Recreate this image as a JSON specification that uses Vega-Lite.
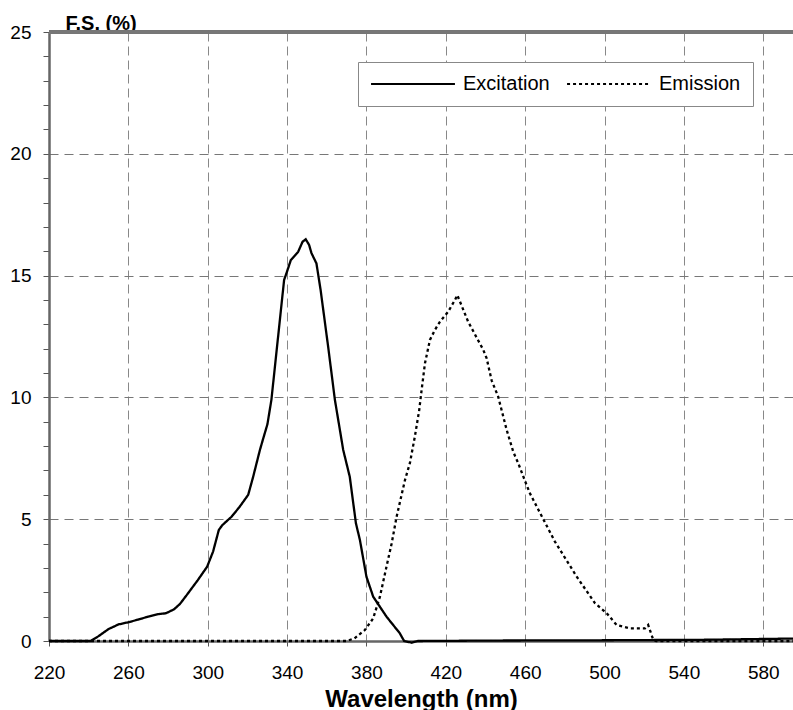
{
  "$schema": "https://vega.github.io/schema/vega-lite/v6.json",
  "autosize": {"type": "none"},
  "padding": {"left": 49, "top": 32, "right": 0, "bottom": 69},
  "width": 744,
  "height": 609,
  "background": "white",
  "config": {
    "view": {"stroke": null},
    "font": "Liberation Sans",
    "axis": {
      "labelFont": "Liberation Sans",
      "labelFontSize": 19,
      "labelColor": "black",
      "domainColor": "#666",
      "domainWidth": 2.5,
      "tickColor": "#555",
      "tickSize": 6,
      "gridColor": "#888",
      "gridWidth": 1
    },
    "legend": {
      "orient": "none",
      "legendX": 309,
      "legendY": 30,
      "direction": "horizontal",
      "padding": 12,
      "strokeColor": "#888",
      "fillColor": "white",
      "symbolType": "M-8,0H8",
      "symbolSize": 110,
      "symbolOffset": 33,
      "symbolStrokeWidth": 2,
      "symbolStrokeColor": "black",
      "labelFont": "Liberation Sans",
      "labelFontSize": 20,
      "labelColor": "black",
      "labelOffset": 40,
      "columnPadding": 13
    }
  },
  "data": {"values": [
    {"series": "Excitation", "wl": 220, "fs": 0},
    {"series": "Excitation", "wl": 241, "fs": 0},
    {"series": "Excitation", "wl": 245, "fs": 0.2},
    {"series": "Excitation", "wl": 250, "fs": 0.49},
    {"series": "Excitation", "wl": 255, "fs": 0.68},
    {"series": "Excitation", "wl": 260, "fs": 0.77},
    {"series": "Excitation", "wl": 265, "fs": 0.88},
    {"series": "Excitation", "wl": 270, "fs": 1.0},
    {"series": "Excitation", "wl": 275, "fs": 1.1},
    {"series": "Excitation", "wl": 279, "fs": 1.14},
    {"series": "Excitation", "wl": 283, "fs": 1.3},
    {"series": "Excitation", "wl": 286, "fs": 1.52},
    {"series": "Excitation", "wl": 290, "fs": 1.95},
    {"series": "Excitation", "wl": 295, "fs": 2.5},
    {"series": "Excitation", "wl": 299.7, "fs": 3.05},
    {"series": "Excitation", "wl": 302.7, "fs": 3.67},
    {"series": "Excitation", "wl": 305.6, "fs": 4.56},
    {"series": "Excitation", "wl": 307.4, "fs": 4.76},
    {"series": "Excitation", "wl": 312, "fs": 5.1},
    {"series": "Excitation", "wl": 316, "fs": 5.5},
    {"series": "Excitation", "wl": 320.4, "fs": 6.0},
    {"series": "Excitation", "wl": 322.9, "fs": 6.74},
    {"series": "Excitation", "wl": 326.3, "fs": 7.84},
    {"series": "Excitation", "wl": 328, "fs": 8.32},
    {"series": "Excitation", "wl": 330.1, "fs": 8.9},
    {"series": "Excitation", "wl": 332.1, "fs": 9.9},
    {"series": "Excitation", "wl": 338.5, "fs": 14.82},
    {"series": "Excitation", "wl": 339.7, "fs": 15.1},
    {"series": "Excitation", "wl": 341.9, "fs": 15.64},
    {"series": "Excitation", "wl": 345.6, "fs": 15.98},
    {"series": "Excitation", "wl": 347.8, "fs": 16.39},
    {"series": "Excitation", "wl": 349.4, "fs": 16.49},
    {"series": "Excitation", "wl": 351.1, "fs": 16.26},
    {"series": "Excitation", "wl": 352.3, "fs": 15.92},
    {"series": "Excitation", "wl": 354.8, "fs": 15.5},
    {"series": "Excitation", "wl": 356.9, "fs": 14.41},
    {"series": "Excitation", "wl": 360.7, "fs": 12.08},
    {"series": "Excitation", "wl": 364.1, "fs": 9.9},
    {"series": "Excitation", "wl": 368.3, "fs": 7.84},
    {"series": "Excitation", "wl": 371.6, "fs": 6.74},
    {"series": "Excitation", "wl": 374.7, "fs": 4.83},
    {"series": "Excitation", "wl": 376.7, "fs": 4.15},
    {"series": "Excitation", "wl": 380, "fs": 2.64},
    {"series": "Excitation", "wl": 383.4, "fs": 1.82},
    {"series": "Excitation", "wl": 390.1, "fs": 1.0},
    {"series": "Excitation", "wl": 396.8, "fs": 0.32},
    {"series": "Excitation", "wl": 399, "fs": 0.0},
    {"series": "Excitation", "wl": 402.8, "fs": -0.07},
    {"series": "Excitation", "wl": 406, "fs": 0.0},
    {"series": "Excitation", "wl": 450, "fs": 0.02},
    {"series": "Excitation", "wl": 500, "fs": 0.03},
    {"series": "Excitation", "wl": 550, "fs": 0.05},
    {"series": "Excitation", "wl": 595, "fs": 0.1},
    {"series": "Emission", "wl": 220, "fs": 0},
    {"series": "Emission", "wl": 370, "fs": 0},
    {"series": "Emission", "wl": 374, "fs": 0.11},
    {"series": "Emission", "wl": 379.2, "fs": 0.45},
    {"series": "Emission", "wl": 383.4, "fs": 0.93},
    {"series": "Emission", "wl": 386.8, "fs": 1.82},
    {"series": "Emission", "wl": 390.1, "fs": 3.05},
    {"series": "Emission", "wl": 392.7, "fs": 4.0},
    {"series": "Emission", "wl": 395.2, "fs": 5.1},
    {"series": "Emission", "wl": 399.4, "fs": 6.6},
    {"series": "Emission", "wl": 401.9, "fs": 7.3},
    {"series": "Emission", "wl": 404.4, "fs": 8.39},
    {"series": "Emission", "wl": 406.6, "fs": 9.48},
    {"series": "Emission", "wl": 407.8, "fs": 10.3},
    {"series": "Emission", "wl": 409.5, "fs": 11.4},
    {"series": "Emission", "wl": 412, "fs": 12.36},
    {"series": "Emission", "wl": 414.5, "fs": 12.77},
    {"series": "Emission", "wl": 417, "fs": 13.1},
    {"series": "Emission", "wl": 421.2, "fs": 13.52},
    {"series": "Emission", "wl": 424.6, "fs": 14.0},
    {"series": "Emission", "wl": 425.8, "fs": 14.2},
    {"series": "Emission", "wl": 431.3, "fs": 13.1},
    {"series": "Emission", "wl": 438.9, "fs": 11.95},
    {"series": "Emission", "wl": 440.6, "fs": 11.6},
    {"series": "Emission", "wl": 443.1, "fs": 10.7},
    {"series": "Emission", "wl": 446.4, "fs": 10.03},
    {"series": "Emission", "wl": 450.7, "fs": 8.66},
    {"series": "Emission", "wl": 454, "fs": 7.77},
    {"series": "Emission", "wl": 456.5, "fs": 7.3},
    {"series": "Emission", "wl": 460.4, "fs": 6.47},
    {"series": "Emission", "wl": 462.4, "fs": 6.06},
    {"series": "Emission", "wl": 475, "fs": 4.08},
    {"series": "Emission", "wl": 486, "fs": 2.64},
    {"series": "Emission", "wl": 495.2, "fs": 1.55},
    {"series": "Emission", "wl": 501.1, "fs": 1.14},
    {"series": "Emission", "wl": 506.1, "fs": 0.66},
    {"series": "Emission", "wl": 512.8, "fs": 0.52},
    {"series": "Emission", "wl": 520.4, "fs": 0.52},
    {"series": "Emission", "wl": 522, "fs": 0.66},
    {"series": "Emission", "wl": 524.6, "fs": 0.04},
    {"series": "Emission", "wl": 526, "fs": 0},
    {"series": "Emission", "wl": 595, "fs": 0}
  ]},
  "layer": [
    {
      "mark": {"type": "line", "strokeWidth": 2.3, "color": "black"},
      "encoding": {
        "x": {
          "field": "wl", "type": "quantitative",
          "scale": {"domain": [220, 595], "nice": false, "zero": false},
          "axis": {
            "values": [220, 260, 300, 340, 380, 420, 460, 500, 540, 580],
            "tickCount": 20,
            "title": "Wavelength (nm)",
            "titleFont": "Liberation Sans",
            "titleFontSize": 24,
            "titleFontWeight": "bold",
            "titleColor": "black",
            "titleBaseline": "alphabetic",
            "titleY": 65,
            "titleX": 372,
            "titleAnchor": "middle",
            "labelPadding": 17,
            "tickSize": 5,
            "gridDash": [9, 5],
            "labelFlush": false
          }
        },
        "y": {
          "field": "fs", "type": "quantitative",
          "scale": {"domain": [0, 25], "nice": false},
          "axis": {
            "values": [0, 1, 2, 3, 4, 5, 6, 7, 8, 9, 10, 11, 12, 13, 14, 15, 16, 17, 18, 19, 20, 21, 22, 23, 24, 25],
            "tickCount": 30,
            "labelExpr": "indexof([0, 5, 10, 15, 20, 25], datum.value) >= 0 ? datum.label : ''",
            "labelOverlap": false,
            "labelBound": false,
            "gridOpacity": {"condition": {"test": "indexof([5, 10, 15, 20], datum.value) >= 0", "value": 1}, "value": 0},
            "gridDash": [9, 6],
            "gridColor": "#777",
            "labelPadding": 12,
            "tickSize": 6,
            "title": "F.S. (%)",
            "titleAngle": 0,
            "titleAlign": "left",
            "titleBaseline": "alphabetic",
            "titleX": 16,
            "titleY": -3,
            "titleFont": "Liberation Sans",
            "titleFontSize": 20,
            "titleFontWeight": "bold",
            "titleColor": "black"
          }
        },
        "strokeDash": {
          "field": "series", "type": "nominal",
          "scale": {"domain": ["Excitation", "Emission"], "range": [[1, 0], [3, 3]]},
          "legend": {"title": null}
        },
        "detail": {"field": "series"}
      }
    },
    {
      "mark": {"type": "rule", "color": "#777", "strokeWidth": 3},
      "encoding": {"y": {"datum": 25}}
    }
  ]
}
